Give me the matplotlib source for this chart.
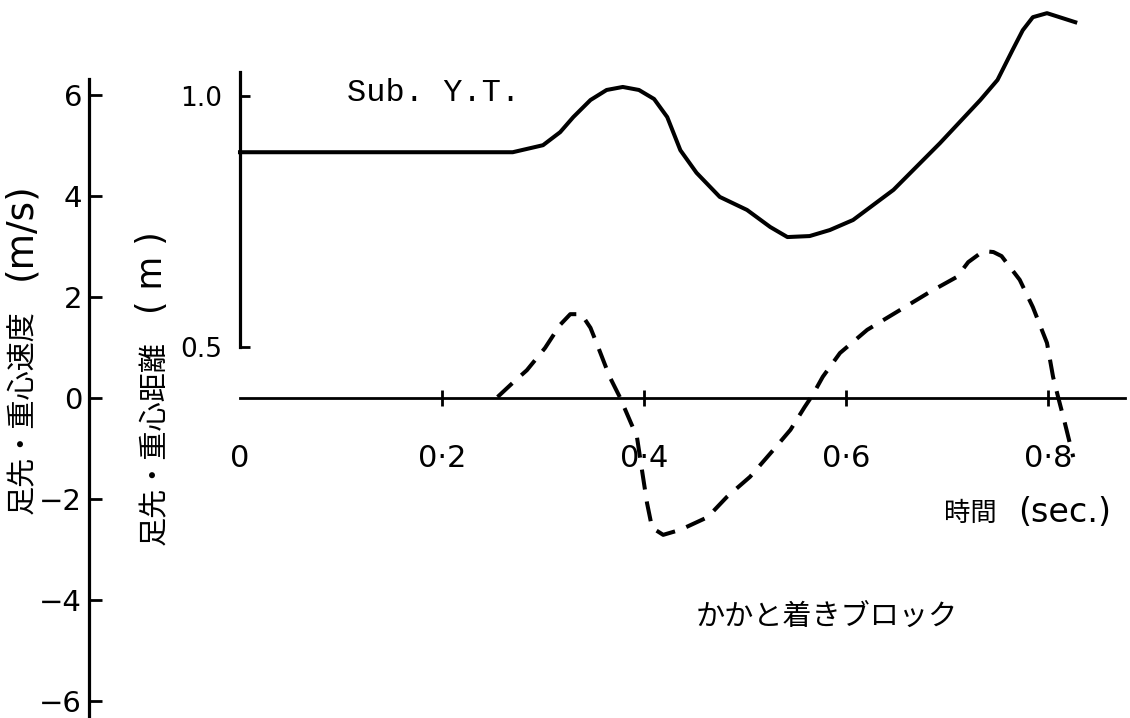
import matplotlib
matplotlib.use('Agg')
import matplotlib.pyplot as plt

# distance (m), solid curve
t_dist = [0.0, 0.270, 0.300, 0.317, 0.330, 0.347, 0.363, 0.379, 0.395, 0.410,
          0.423, 0.436, 0.452, 0.475, 0.502, 0.525, 0.542, 0.564, 0.584, 0.607,
          0.647, 0.693, 0.733, 0.750, 0.765, 0.775, 0.785, 0.799, 0.827]
dist = [0.888, 0.888, 0.902, 0.928, 0.958, 0.992, 1.012, 1.018, 1.012, 0.994,
        0.958, 0.892, 0.847, 0.799, 0.773, 0.739, 0.719, 0.721, 0.733, 0.753,
        0.813, 0.906, 0.992, 1.032, 1.092, 1.131, 1.157, 1.165, 1.147]

# velocity (m/s), dashed curve
t_vel = [0.255, 0.270, 0.284, 0.302, 0.317, 0.327, 0.338, 0.347, 0.353, 0.366,
         0.376, 0.393, 0.399, 0.403, 0.408, 0.419, 0.436, 0.463, 0.482, 0.505,
         0.528, 0.545, 0.559, 0.567, 0.577, 0.594, 0.621, 0.650, 0.683, 0.710,
         0.721, 0.736, 0.746, 0.754, 0.772, 0.785, 0.799, 0.805, 0.810, 0.816,
         0.825]
vel = [0.02, 0.30, 0.55, 0.99, 1.45, 1.66, 1.66, 1.39, 1.09, 0.42,
       0.02, -0.77, -1.56, -2.08, -2.57, -2.71, -2.61, -2.36, -1.96, -1.56,
       -1.03, -0.63, -0.18, 0.06, 0.42, 0.89, 1.35, 1.70, 2.10, 2.40,
       2.69, 2.91, 2.89, 2.81, 2.34, 1.80, 1.09, 0.42, 0.02, -0.44,
       -1.17]

x_ticks = [0, 0.2, 0.4, 0.6, 0.8]
x_labels = ['0', '0·2', '0·4', '0·6', '0·8']
v_ticks = [-6, -4, -2, 0, 2, 4, 6]
v_labels = ['−6', '−4', '−2', '0', '2', '4', '6']
d_ticks = [0.5, 1.0]
d_labels = ['0.5', '1.0']

W, H = 1130, 718
JP = ['Noto Sans CJK JP', 'DejaVu Sans']


def px(x, y):
    return x / W, 1 - y / H


def main():
    fig = plt.figure(figsize=(W / 100, H / 100), dpi=100)
    rect = [240 / W, 0, 885 / W, 1]
    xmax = 885 / 1010

    ax = fig.add_axes(rect)
    ax.set_xlim(0, xmax)
    ax.set_ylim(-320 / 50.5, 398 / 50.5)
    ax.patch.set_visible(False)
    for s in ['top', 'right']:
        ax.spines[s].set_visible(False)
    ax.spines['left'].set_position(('axes', (89 - 240) / 885))
    ax.spines['left'].set_bounds(-6.34, 6.32)
    ax.spines['left'].set_linewidth(2.3)
    ax.spines['bottom'].set_position(('data', 0))
    ax.spines['bottom'].set_bounds(0, xmax)
    ax.spines['bottom'].set_linewidth(2.0)
    ax.set_yticks(v_ticks)
    ax.set_yticklabels(v_labels, fontsize=21)
    ax.tick_params(axis='y', direction='in', length=9, width=2, pad=5)
    ax.set_xticks(x_ticks)
    ax.set_xticklabels(x_labels, fontsize=22)
    ax.tick_params(axis='x', direction='inout', length=12, width=2, pad=27)
    ax.xaxis.get_major_ticks()[0].tick1line.set_visible(False)
    ax.plot(t_vel, vel, color='black', lw=2.9, linestyle=(0, (5, 3)),
            clip_on=False)

    ax2 = fig.add_axes(rect, sharex=ax)
    ax2.set_ylim(1 - 622 / 502, 1 + 96 / 502)
    ax2.patch.set_visible(False)
    for s in ['top', 'right', 'bottom']:
        ax2.spines[s].set_visible(False)
    ax2.spines['left'].set_bounds(0.5, 1.048)
    ax2.spines['left'].set_linewidth(2.3)
    ax2.set_yticks(d_ticks)
    ax2.set_yticklabels(d_labels, fontsize=19)
    ax2.tick_params(axis='y', direction='in', length=7, width=2, pad=13)
    ax2.tick_params(axis='x', bottom=False, labelbottom=False)
    ax2.plot(t_dist, dist, color='black', lw=2.9, clip_on=False)

    fig.text(*px(23, 412), '足先・重心速度', family=JP, fontsize=21,
             rotation=90, ha='center', va='center')
    fig.text(*px(20, 231), '(m/s)', fontsize=27, rotation=90,
             ha='center', va='center')
    fig.text(*px(155, 443), '足先・重心距離', family=JP, fontsize=21,
             rotation=90, ha='center', va='center')
    fig.text(*px(152, 273), '( m )', fontsize=25, rotation=90,
             ha='center', va='center')
    fig.text(*px(347, 93), 'Sub. Y.T.', family='Liberation Mono',
             fontsize=23, ha='left', va='center')
    fig.text(*px(970, 513), '時間', family=JP, fontsize=19,
             ha='center', va='center')
    fig.text(*px(1065, 513), '(sec.)', fontsize=24, ha='center', va='center')
    fig.text(*px(827, 617), 'かかと着きブロック', family=JP, fontsize=21,
             ha='center', va='center')

    fig.savefig('out.png', dpi=100)


if __name__ == '__main__':
    main()
